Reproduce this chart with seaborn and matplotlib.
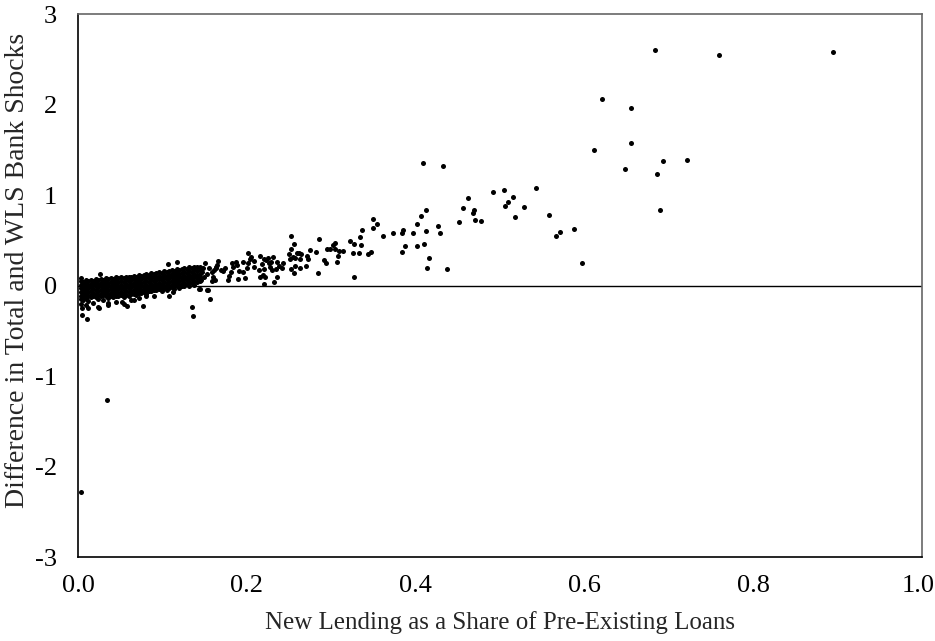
import matplotlib
matplotlib.use("Agg")
import matplotlib.pyplot as plt
import matplotlib.transforms as mtransforms
import seaborn as sns
import pandas as pd

# Dense band of small lenders near zero
cluster_pts = [
    (0.003, 0.05), (0.003, 0.01), (0.003, -0.03), (0.003, -0.07), (0.003, -0.11), (0.003, -0.15), (0.003, -0.20),
    (0.006, 0.04), (0.006, 0.00), (0.006, -0.04), (0.006, -0.08), (0.006, -0.12), (0.006, -0.16),
    (0.009, 0.06), (0.009, 0.02), (0.009, -0.02), (0.009, -0.06), (0.009, -0.10), (0.009, -0.14), (0.009, -0.22),
    (0.012, 0.05), (0.012, 0.01), (0.012, -0.03), (0.012, -0.07), (0.012, -0.11), (0.012, -0.17),
    (0.015, 0.06), (0.015, 0.02), (0.015, -0.02), (0.015, -0.06), (0.015, -0.10), (0.015, -0.13),
    (0.018, 0.05), (0.018, 0.01), (0.018, -0.04), (0.018, -0.08), (0.018, -0.12), (0.018, -0.19),
    (0.021, 0.07), (0.021, 0.03), (0.021, -0.01), (0.021, -0.05), (0.021, -0.09), (0.021, -0.13),
    (0.024, 0.06), (0.024, 0.02), (0.024, -0.02), (0.024, -0.06), (0.024, -0.10), (0.024, -0.15), (0.024, -0.24),
    (0.027, 0.07), (0.027, 0.03), (0.027, -0.01), (0.027, -0.05), (0.027, -0.09), (0.027, -0.12),
    (0.030, 0.06), (0.030, 0.02), (0.030, -0.02), (0.030, -0.06), (0.030, -0.10), (0.030, -0.16),
    (0.033, 0.08), (0.033, 0.04), (0.033, 0.00), (0.033, -0.04), (0.033, -0.08), (0.033, -0.12),
    (0.036, 0.07), (0.036, 0.03), (0.036, -0.01), (0.036, -0.05), (0.036, -0.09), (0.036, -0.14), (0.036, -0.21),
    (0.039, 0.08), (0.039, 0.04), (0.039, 0.00), (0.039, -0.04), (0.039, -0.08), (0.039, -0.11),
    (0.042, 0.07), (0.042, 0.03), (0.042, -0.01), (0.042, -0.05), (0.042, -0.09), (0.042, -0.13),
    (0.045, 0.09), (0.045, 0.05), (0.045, 0.01), (0.045, -0.03), (0.045, -0.07), (0.045, -0.11), (0.045, -0.18),
    (0.048, 0.08), (0.048, 0.04), (0.048, 0.00), (0.048, -0.04), (0.048, -0.08), (0.048, -0.12),
    (0.051, 0.09), (0.051, 0.05), (0.051, 0.01), (0.051, -0.03), (0.051, -0.07), (0.051, -0.10),
    (0.054, 0.08), (0.054, 0.04), (0.054, 0.00), (0.054, -0.04), (0.054, -0.08), (0.054, -0.13), (0.054, -0.20),
    (0.057, 0.10), (0.057, 0.06), (0.057, 0.02), (0.057, -0.02), (0.057, -0.06), (0.057, -0.10),
    (0.060, 0.09), (0.060, 0.05), (0.060, 0.01), (0.060, -0.03), (0.060, -0.07), (0.060, -0.11),
    (0.063, 0.10), (0.063, 0.06), (0.063, 0.02), (0.063, -0.02), (0.063, -0.06), (0.063, -0.09), (0.063, -0.16),
    (0.066, 0.11), (0.066, 0.07), (0.066, 0.03), (0.066, -0.01), (0.066, -0.05), (0.066, -0.09),
    (0.069, 0.10), (0.069, 0.06), (0.069, 0.02), (0.069, -0.02), (0.069, -0.06), (0.069, -0.10),
    (0.072, 0.12), (0.072, 0.08), (0.072, 0.04), (0.072, 0.00), (0.072, -0.04), (0.072, -0.08), (0.072, -0.14),
    (0.075, 0.11), (0.075, 0.07), (0.075, 0.03), (0.075, -0.01), (0.075, -0.05), (0.075, -0.08),
    (0.078, 0.12), (0.078, 0.08), (0.078, 0.04), (0.078, 0.00), (0.078, -0.04), (0.078, -0.07),
    (0.081, 0.13), (0.081, 0.09), (0.081, 0.05), (0.081, 0.01), (0.081, -0.03), (0.081, -0.07), (0.081, -0.12),
    (0.084, 0.12), (0.084, 0.08), (0.084, 0.04), (0.084, 0.00), (0.084, -0.04), (0.084, -0.06),
    (0.087, 0.14), (0.087, 0.10), (0.087, 0.06), (0.087, 0.02), (0.087, -0.02), (0.087, -0.06),
    (0.090, 0.13), (0.090, 0.09), (0.090, 0.05), (0.090, 0.01), (0.090, -0.03), (0.090, -0.05), (0.090, -0.11),
    (0.093, 0.14), (0.093, 0.10), (0.093, 0.06), (0.093, 0.02), (0.093, -0.02), (0.093, -0.05),
    (0.096, 0.15), (0.096, 0.11), (0.096, 0.07), (0.096, 0.03), (0.096, -0.01), (0.096, -0.04),
    (0.099, 0.14), (0.099, 0.10), (0.099, 0.06), (0.099, 0.02), (0.099, -0.02), (0.099, -0.06),
    (0.102, 0.16), (0.102, 0.12), (0.102, 0.08), (0.102, 0.04), (0.102, 0.00), (0.102, -0.03),
    (0.105, 0.15), (0.105, 0.11), (0.105, 0.07), (0.105, 0.03), (0.105, -0.01), (0.105, -0.05),
    (0.108, 0.16), (0.108, 0.12), (0.108, 0.08), (0.108, 0.04), (0.108, 0.00), (0.108, -0.03),
    (0.111, 0.17), (0.111, 0.13), (0.111, 0.09), (0.111, 0.05), (0.111, 0.01), (0.111, -0.02),
    (0.114, 0.16), (0.114, 0.12), (0.114, 0.08), (0.114, 0.04), (0.114, 0.00), (0.114, -0.04),
    (0.117, 0.18), (0.117, 0.14), (0.117, 0.10), (0.117, 0.06), (0.117, 0.02), (0.117, -0.01),
    (0.120, 0.17), (0.120, 0.13), (0.120, 0.09), (0.120, 0.05), (0.120, 0.01), (0.120, -0.03),
    (0.123, 0.18), (0.123, 0.14), (0.123, 0.10), (0.123, 0.06), (0.123, 0.02), (0.123, 0.00),
    (0.126, 0.19), (0.126, 0.15), (0.126, 0.11), (0.126, 0.07), (0.126, 0.03), (0.126, -0.01),
    (0.129, 0.18), (0.129, 0.14), (0.129, 0.10), (0.129, 0.06), (0.129, 0.02),
    (0.132, 0.20), (0.132, 0.16), (0.132, 0.12), (0.132, 0.08), (0.132, 0.04), (0.132, 0.00),
    (0.135, 0.19), (0.135, 0.15), (0.135, 0.11), (0.135, 0.07), (0.135, 0.03),
    (0.138, 0.21), (0.138, 0.17), (0.138, 0.13), (0.138, 0.09), (0.138, 0.05), (0.138, 0.01),
    (0.141, 0.20), (0.141, 0.16), (0.141, 0.12), (0.141, 0.08), (0.141, 0.04),
    (0.144, 0.21), (0.144, 0.17), (0.144, 0.13), (0.144, 0.09), (0.144, 0.05),
]

# Sparser middle section
mid_pts = [
    (0.145, -0.04), (0.146, 0.06), (0.147, 0.15), (0.148, 0.19), (0.149, 0.10), (0.150, 0.25),
    (0.153, 0.13), (0.153, -0.05), (0.155, 0.19), (0.156, -0.15), (0.159, 0.05), (0.159, 0.15),
    (0.160, 0.10), (0.161, 0.17), (0.162, 0.06), (0.163, 0.21), (0.164, 0.19), (0.165, 0.23),
    (0.166, 0.27), (0.170, 0.17), (0.172, 0.16), (0.174, 0.19), (0.178, 0.06), (0.179, 0.11),
    (0.181, 0.15), (0.182, 0.25), (0.184, 0.21), (0.187, 0.26), (0.189, 0.23), (0.190, 0.07),
    (0.191, 0.16), (0.195, 0.15), (0.195, 0.26), (0.198, 0.08), (0.200, 0.19), (0.201, 0.25),
    (0.202, 0.36), (0.204, 0.29), (0.205, 0.32), (0.208, 0.27), (0.209, 0.21), (0.214, 0.17),
    (0.216, 0.33), (0.216, 0.10), (0.218, 0.24), (0.219, 0.12), (0.220, 0.29), (0.220, 0.18),
    (0.220, 0.02), (0.222, 0.10), (0.223, 0.28), (0.225, 0.30), (0.226, 0.25), (0.228, 0.21),
    (0.229, 0.26), (0.230, 0.17), (0.231, 0.32), (0.232, 0.04), (0.235, 0.18), (0.236, 0.26),
    (0.236, 0.09), (0.238, 0.22), (0.242, 0.19), (0.243, 0.25), (0.250, 0.35), (0.251, 0.29),
    (0.252, 0.55), (0.252, 0.40), (0.253, 0.18), (0.255, 0.32), (0.256, 0.46), (0.256, 0.14),
    (0.257, 0.31), (0.257, 0.22), (0.259, 0.36), (0.262, 0.36), (0.263, 0.29), (0.263, 0.19),
    (0.264, 0.35), (0.270, 0.22), (0.271, 0.33), (0.273, 0.29), (0.275, 0.39), (0.282, 0.37),
    (0.285, 0.14), (0.286, 0.51), (0.291, 0.28), (0.294, 0.25), (0.295, 0.40), (0.299, 0.40),
    (0.302, 0.45), (0.304, 0.47), (0.304, 0.40), (0.307, 0.26), (0.308, 0.33), (0.309, 0.38),
    (0.314, 0.38), (0.322, 0.49), (0.326, 0.36), (0.327, 0.46), (0.327, 0.10), (0.333, 0.36),
    (0.334, 0.54), (0.335, 0.45), (0.336, 0.61), (0.344, 0.35), (0.347, 0.37), (0.350, 0.74),
    (0.350, 0.64), (0.354, 0.68),
]

# Large new lenders
upper_pts = [
    (0.361, 0.55), (0.373, 0.58), (0.384, 0.58), (0.385, 0.61), (0.384, 0.37), (0.387, 0.44),
    (0.397, 0.58), (0.402, 0.68), (0.402, 0.44), (0.407, 0.77), (0.409, 1.36), (0.410, 0.46),
    (0.412, 0.84), (0.412, 0.60), (0.414, 0.19), (0.416, 0.30), (0.427, 0.66), (0.429, 0.58),
    (0.433, 1.32), (0.437, 0.18), (0.452, 0.70), (0.456, 0.86), (0.462, 0.97), (0.468, 0.80),
    (0.469, 0.84), (0.470, 0.72), (0.478, 0.71), (0.492, 1.03), (0.505, 1.06), (0.506, 0.88),
    (0.510, 0.92), (0.516, 0.98), (0.518, 0.76), (0.528, 0.87), (0.543, 1.08), (0.558, 0.78),
    (0.567, 0.55), (0.571, 0.59), (0.588, 0.62), (0.597, 0.25), (0.611, 1.50), (0.621, 2.06),
    (0.648, 1.29), (0.655, 1.96), (0.655, 1.57), (0.684, 2.60), (0.686, 1.23), (0.690, 0.83),
    (0.693, 1.38), (0.722, 1.39), (0.760, 2.55), (0.895, 2.58),
]

# Stray points off the band
stray_pts = [
    (0.003, -2.28), (0.034, -1.27), (0.005, -0.33), (0.011, -0.37), (0.005, -0.25), (0.012, -0.25),
    (0.025, -0.25), (0.036, -0.19), (0.052, -0.18), (0.058, -0.23), (0.066, -0.16), (0.077, -0.23),
    (0.081, -0.09), (0.108, -0.12), (0.113, -0.07), (0.135, -0.24), (0.136, -0.34), (0.143, -0.04),
    (0.154, -0.05), (0.026, 0.13), (0.004, 0.08), (0.107, 0.24), (0.117, 0.26),
]

x_ticks = [0.0, 0.2, 0.4, 0.6, 0.8, 1.0]
y_ticks = [-3, -2, -1, 0, 1, 2, 3]

df = pd.DataFrame(cluster_pts + mid_pts + upper_pts + stray_pts, columns=["share", "diff"])

sns.set_style("white")
plt.rcParams["font.family"] = ["Liberation Serif", "DejaVu Serif"]
plt.rcParams["axes.unicode_minus"] = False

fig = plt.figure(figsize=(9.35, 6.41), dpi=100)
ax = fig.add_axes([0.0834, 0.131, 0.9026, 0.847])

ax.axhline(0, color="black", lw=1.0, zorder=1)
sns.scatterplot(data=df, x="share", y="diff", ax=ax, color="black", s=13, linewidth=0, zorder=2)

ax.set_xlim(0, 1)
ax.set_ylim(-3, 3)
ax.set_xticks(x_ticks)
ax.set_xticklabels([f"{t:.1f}" for t in x_ticks])
ax.set_yticks(y_ticks)
ax.set_yticklabels([str(t) for t in y_ticks])
ax.tick_params(axis="both", direction="in", length=6, width=0.8, color="#888888",
               labelsize=19, labelcolor="black")
ax.tick_params(axis="x", pad=13)
ax.tick_params(axis="y", pad=15)

# keep the last x label inside the canvas
last = ax.get_xticklabels()[-1]
last.set_transform(last.get_transform() + mtransforms.ScaledTranslation(-4 / 100, 0, fig.dpi_scale_trans))

for side in ["left", "bottom"]:
    ax.spines[side].set_color("black")
    ax.spines[side].set_linewidth(1.2)
for side in ["top", "right"]:
    ax.spines[side].set_color("#666666")
    ax.spines[side].set_linewidth(1.2)

ax.set_xlabel("New Lending as a Share of Pre-Existing Loans", fontsize=18)
ax.set_ylabel("Difference in Total and WLS Bank Shocks", fontsize=20)
ax.xaxis.set_label_coords(0.5, -0.1)
ax.yaxis.set_label_coords(-0.057, 0.527)

plt.savefig("out.png", dpi=100)
